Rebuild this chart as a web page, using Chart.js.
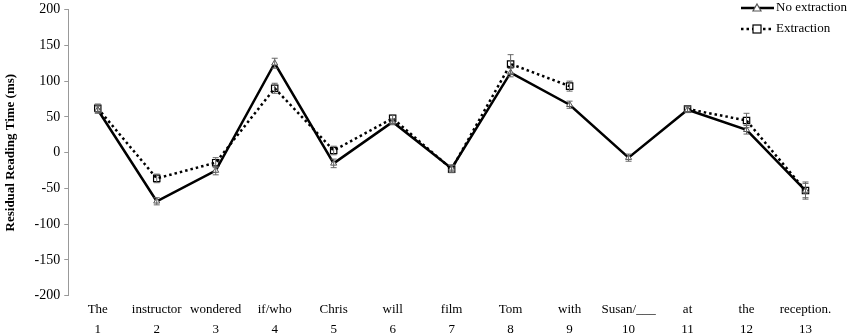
<!DOCTYPE html>
<html>
<head>
<meta charset="utf-8">
<script src="https://cdn.jsdelivr.net/npm/chart.js@4/dist/chart.umd.min.js"></script>
<style>
  html, body { margin: 0; padding: 0; background: #fff; }
  #wrap { width: 851px; height: 336px; position: relative; }
</style>
</head>
<body>
<div id="wrap"><canvas id="grafico"></canvas></div>
<script>
const palavras = ["The", "instructor", "wondered", "if/who", "Chris", "will", "film", "Tom", "with", "Susan/___", "at", "the", "reception."];
const posicoes = ["1", "2", "3", "4", "5", "6", "7", "8", "9", "10", "11", "12", "13"];

const semExtracao = [60, -68, -25, 125, -15, 43, -22, 112, 67, -7, 60, 32, -53];
const semExtracaoErro = [5, 5, 6, 7, 6, 4, 5, 6, 5, 5, 4, 6, 10];

const comExtracao = [62, -36, -14, 90, 3, 48, -23, 124, 93, null, 61, 45, -53];
const comExtracaoErro = [6, 6, 7, 7, 6, 5, 5, 13, 7, null, 4, 10, 12];

const yTicks = [-200, -150, -100, -50, 0, 50, 100, 150, 200];

const fonte = "'Liberation Serif', 'Times New Roman', serif";

// barras de erro desenhadas pela escala y
const errorBars = {
  id: "errorBars",
  afterDatasetsDraw(chart) {
    const ctx = chart.ctx;
    const y = chart.scales.y;
    chart.data.datasets.forEach((ds, i) => {
      const meta = chart.getDatasetMeta(i);
      ctx.save();
      ctx.strokeStyle = "#666";
      ctx.lineWidth = 1;
      meta.data.forEach((pt, j) => {
        const v = ds.data[j];
        const e = ds.erros[j];
        if (v == null || e == null) return;
        const top = y.getPixelForValue(v + e);
        const bot = y.getPixelForValue(v - e);
        ctx.beginPath();
        ctx.moveTo(pt.x, top);
        ctx.lineTo(pt.x, bot);
        ctx.moveTo(pt.x - 3, top);
        ctx.lineTo(pt.x + 3, top);
        ctx.moveTo(pt.x - 3, bot);
        ctx.lineTo(pt.x + 3, bot);
        ctx.stroke();
      });
      ctx.restore();
    });
  },
};

// legenda no canto superior direito
const legenda = {
  id: "legenda",
  afterDraw(chart) {
    const ctx = chart.ctx;
    ctx.save();
    ctx.font = "13px " + fonte;
    ctx.fillStyle = "#000";
    ctx.textBaseline = "middle";
    chart.data.datasets.forEach((ds, i) => {
      const yy = 8 + i * 21;
      ctx.beginPath();
      ctx.strokeStyle = "#000";
      ctx.lineWidth = 2.5;
      ctx.setLineDash(ds.borderDash || []);
      ctx.moveTo(741, yy);
      ctx.lineTo(774, yy);
      ctx.stroke();
      ctx.setLineDash([]);
      ctx.lineWidth = 1.2;
      ctx.fillStyle = "#fff";
      if (ds.pointStyle === "rect") {
        ctx.fillRect(753, yy - 4, 8, 8);
        ctx.strokeRect(753, yy - 4, 8, 8);
      } else {
        ctx.beginPath();
        ctx.moveTo(757, yy - 4);
        ctx.lineTo(761, yy + 3);
        ctx.lineTo(753, yy + 3);
        ctx.closePath();
        ctx.fill();
        ctx.strokeStyle = "#555";
        ctx.stroke();
      }
      ctx.fillStyle = "#000";
      ctx.fillText(ds.label, 776, yy);
    });
    ctx.restore();
  },
};

new Chart(document.getElementById("grafico"), {
  type: "line",
  data: {
    labels: palavras.map((p, i) => [p, posicoes[i]]),
    datasets: [
      {
        label: "No extraction",
        data: semExtracao,
        erros: semExtracaoErro,
        borderColor: "#000",
        borderWidth: 2.5,
        tension: 0,
        pointStyle: "triangle",
        pointRadius: 3.5,
        pointBackgroundColor: "#fff",
        pointBorderColor: "#555",
        pointBorderWidth: 1,
      },
      {
        label: "Extraction",
        data: comExtracao,
        erros: comExtracaoErro,
        borderColor: "#000",
        borderWidth: 2.5,
        borderDash: [2.5, 3],
        tension: 0,
        spanGaps: false,
        pointStyle: "rect",
        pointRadius: 4.5,
        pointBackgroundColor: "rgba(255,255,255,0)",
        pointBorderColor: "#000",
        pointBorderWidth: 1.2,
      },
    ],
  },
  options: {
    responsive: true,
    maintainAspectRatio: false,
    animation: false,
    layout: { padding: { top: 0, right: 16, left: 3, bottom: 0 } },
    plugins: {
      legend: { display: false },
      tooltip: { enabled: false },
    },
    scales: {
      x: {
        offset: true,
        grid: { display: false },
        border: { display: false },
        ticks: {
          color: "#000",
          font: { family: fonte, size: 13, lineHeight: 1.55 },
          maxRotation: 0,
          autoSkip: false,
          padding: -4,
        },
      },
      y: {
        min: -200,
        max: 200,
        afterBuildTicks: (axis) => {
          axis.ticks = yTicks.map((v) => ({ value: v }));
        },
        grid: {
          drawOnChartArea: false,
          drawTicks: true,
          tickLength: 4,
          color: "#999",
        },
        border: { display: true, color: "#999", width: 1 },
        ticks: {
          color: "#000",
          font: { family: fonte, size: 14, lineHeight: 0.8 },
          padding: 4,
        },
        title: {
          display: true,
          text: "Residual Reading Time (ms)",
          color: "#000",
          font: { family: fonte, size: 13, weight: "bold" },
          padding: { top: 0, bottom: 12 },
        },
      },
    },
  },
  plugins: [errorBars, legenda],
});
</script>
</body>
</html>
